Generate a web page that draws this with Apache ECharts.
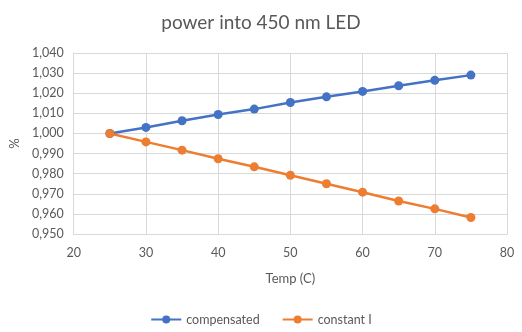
<!DOCTYPE html>
<html><head><meta charset="utf-8">
<script src="https://cdn.jsdelivr.net/npm/echarts@6/dist/echarts.min.js"></script>
<style>html,body{margin:0;padding:0;background:#fff}#c{width:522px;height:332px}</style>
</head><body><div id="c"></div>
<script>
const temps = [25, 30, 35, 40, 45, 50, 55, 60, 65, 70, 75];
const compensated = [1.000, 1.003, 1.0063, 1.0094, 1.0121, 1.0154, 1.0182, 1.0209, 1.0237, 1.0264, 1.0290];
const constantI = [1.000, 0.9958, 0.9917, 0.9874, 0.9834, 0.9792, 0.9750, 0.9708, 0.9664, 0.9625, 0.9582];
const seriesNames = ['compensated', 'constant I'];
const FONT = 'Lato, "Open Sans", sans-serif';
const chart = echarts.init(document.getElementById('c'));
const fmt = v => v.toFixed(3).replace('.', ',');
chart.setOption({
  animation: false,
  title: {text: 'power into 450 nm LED', left: 'center', top: 8,
    textStyle: {fontFamily: FONT, fontSize: 19, fontWeight: 'normal', color: '#595959'}},
  grid: {left: 73, right: 15, top: 53, bottom: 98},
  legend: {bottom: 1, left: 'center', itemWidth: 30, itemHeight: 10, itemGap: 22,
    textStyle: {fontFamily: FONT, fontSize: 12.5, color: '#595959'},
    data: seriesNames},
  xAxis: {type: 'value', min: 20, max: 80, interval: 10,
    name: 'Temp (C)', nameLocation: 'middle', nameGap: 38,
    nameTextStyle: {fontFamily: FONT, fontSize: 13, color: '#595959'},
    axisLine: {lineStyle: {color: '#d9d9d9'}}, axisTick: {show: false},
    axisLabel: {fontFamily: FONT, fontSize: 12.5, color: '#595959', margin: 12},
    splitLine: {show: true, lineStyle: {color: '#d9d9d9'}}},
  yAxis: {type: 'value', min: 0.95, max: 1.04, interval: 0.01,
    name: '%', nameLocation: 'middle', nameGap: 51, nameRotate: 90,
    nameTextStyle: {fontFamily: FONT, fontSize: 13, color: '#595959'},
    axisLine: {show: true, lineStyle: {color: '#d9d9d9'}}, axisTick: {show: false},
    axisLabel: {fontFamily: FONT, fontSize: 12.5, color: '#595959', margin: 10, formatter: fmt},
    splitLine: {show: true, lineStyle: {color: '#d9d9d9'}}},
  series: [
    {name: seriesNames[0], type: 'line', data: temps.map((t, i) => [t, compensated[i]]),
      symbol: 'circle', symbolSize: 9, color: '#4472C4', lineStyle: {width: 2.5, color: '#4472C4'}},
    {name: seriesNames[1], type: 'line', data: temps.map((t, i) => [t, constantI[i]]),
      symbol: 'circle', symbolSize: 9, color: '#ED7D31', lineStyle: {width: 2.5, color: '#ED7D31'}}
  ]
});
</script></body></html>
